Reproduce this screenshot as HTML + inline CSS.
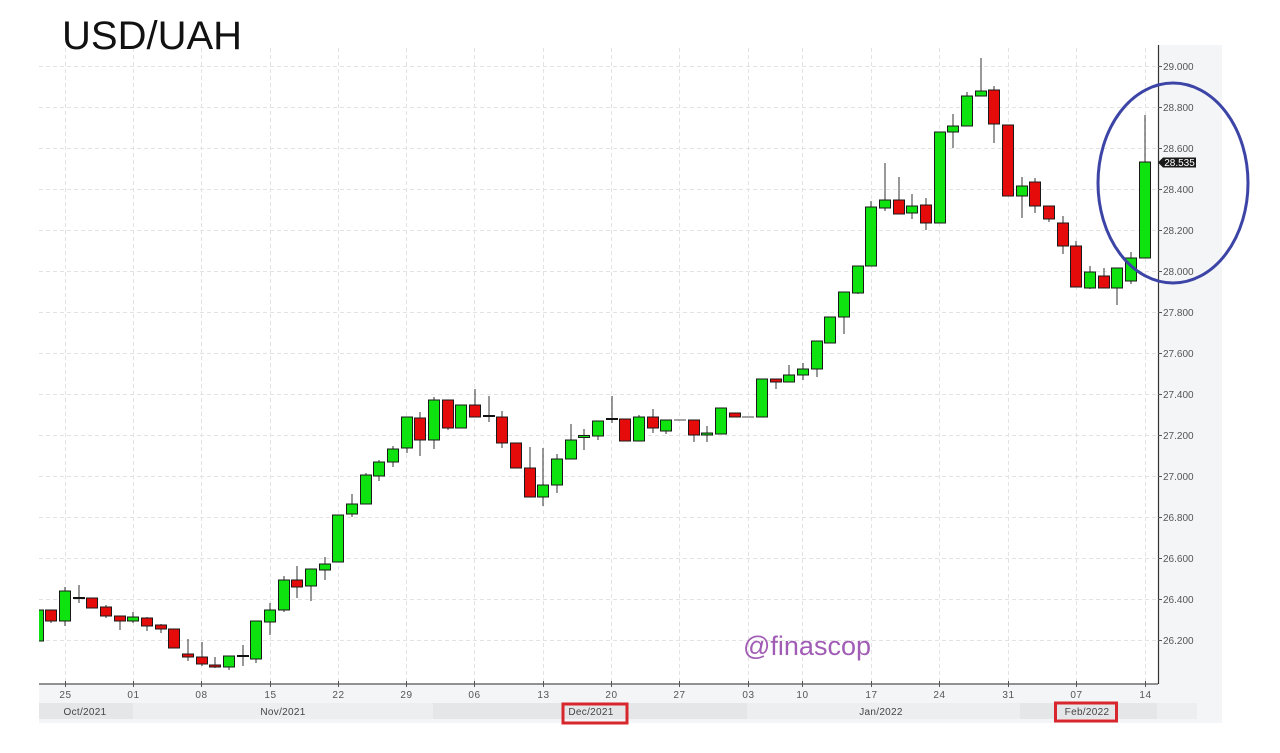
<!DOCTYPE html>
<html><head><meta charset="utf-8"><style>
html,body{margin:0;padding:0;background:#fff;}
body{width:1280px;height:753px;overflow:hidden;}
svg{display:block;font-family:"Liberation Sans",sans-serif;}
</style></head><body>
<svg width="1280" height="753" viewBox="0 0 1280 753" xmlns="http://www.w3.org/2000/svg">
<defs><clipPath id="pc"><rect x="39" y="45" width="1119" height="639"/></clipPath></defs>
<rect x="39" y="45" width="1183" height="678" fill="#f4f5f7"/>
<rect x="39" y="45" width="1119" height="639" fill="#fff"/>
<!-- month band -->
<rect x="39" y="703" width="94" height="16" fill="#e5e6e8"/>
<rect x="133" y="703" width="300" height="16" fill="#edeef0"/>
<rect x="433" y="703" width="314" height="16" fill="#e5e6e8"/>
<rect x="747" y="703" width="273" height="16" fill="#edeef0"/>
<rect x="1020" y="703" width="137" height="16" fill="#e5e6e8"/>
<rect x="1157" y="703" width="40" height="16" fill="#edeef0"/>
<!-- grid -->
<g stroke="#e3e3e3" stroke-width="1" stroke-dasharray="4,3">
<line x1="39" x2="1158" y1="66.5" y2="66.5"/><line x1="39" x2="1158" y1="107.5" y2="107.5"/><line x1="39" x2="1158" y1="148.5" y2="148.5"/><line x1="39" x2="1158" y1="189.5" y2="189.5"/><line x1="39" x2="1158" y1="230.5" y2="230.5"/><line x1="39" x2="1158" y1="271.5" y2="271.5"/><line x1="39" x2="1158" y1="312.5" y2="312.5"/><line x1="39" x2="1158" y1="353.5" y2="353.5"/><line x1="39" x2="1158" y1="394.5" y2="394.5"/><line x1="39" x2="1158" y1="435.5" y2="435.5"/><line x1="39" x2="1158" y1="476.5" y2="476.5"/><line x1="39" x2="1158" y1="517.5" y2="517.5"/><line x1="39" x2="1158" y1="558.5" y2="558.5"/><line x1="39" x2="1158" y1="599.5" y2="599.5"/><line x1="39" x2="1158" y1="640.5" y2="640.5"/>
<line x1="65.5" x2="65.5" y1="48" y2="684"/><line x1="133.5" x2="133.5" y1="48" y2="684"/><line x1="201.5" x2="201.5" y1="48" y2="684"/><line x1="270.5" x2="270.5" y1="48" y2="684"/><line x1="338.5" x2="338.5" y1="48" y2="684"/><line x1="406.5" x2="406.5" y1="48" y2="684"/><line x1="474.5" x2="474.5" y1="48" y2="684"/><line x1="543.5" x2="543.5" y1="48" y2="684"/><line x1="611.5" x2="611.5" y1="48" y2="684"/><line x1="679.5" x2="679.5" y1="48" y2="684"/><line x1="748.5" x2="748.5" y1="48" y2="684"/><line x1="802.5" x2="802.5" y1="48" y2="684"/><line x1="871.5" x2="871.5" y1="48" y2="684"/><line x1="939.5" x2="939.5" y1="48" y2="684"/><line x1="1008.5" x2="1008.5" y1="48" y2="684"/><line x1="1076.5" x2="1076.5" y1="48" y2="684"/><line x1="1145.5" x2="1145.5" y1="48" y2="684"/>
</g>
<!-- watermark -->
<text x="743" y="655" font-size="27" fill="#a15cb5">@finascop</text>
<g clip-path="url(#pc)">
<!-- wicks -->
<g stroke="#333" stroke-width="1">
<line x1="51" x2="51" y1="621" y2="623"/><line x1="65" x2="65" y1="587" y2="626"/><line x1="79" x2="79" y1="585" y2="603"/><line x1="106" x2="106" y1="605" y2="618"/><line x1="120" x2="120" y1="616" y2="630"/><line x1="133" x2="133" y1="612" y2="623"/><line x1="147" x2="147" y1="617" y2="631"/><line x1="161" x2="161" y1="624" y2="633"/><line x1="188" x2="188" y1="639" y2="661"/><line x1="202" x2="202" y1="642" y2="666"/><line x1="215" x2="215" y1="657" y2="668"/><line x1="229" x2="229" y1="656" y2="670"/><line x1="243" x2="243" y1="645" y2="666"/><line x1="256" x2="256" y1="621" y2="663"/><line x1="270" x2="270" y1="603" y2="635"/><line x1="284" x2="284" y1="576" y2="612"/><line x1="297" x2="297" y1="566" y2="598"/><line x1="311" x2="311" y1="569" y2="601"/><line x1="325" x2="325" y1="557" y2="580"/><line x1="352" x2="352" y1="494" y2="517"/><line x1="366" x2="366" y1="473" y2="504"/><line x1="379" x2="379" y1="460" y2="481"/><line x1="393" x2="393" y1="446" y2="467"/><line x1="407" x2="407" y1="417" y2="453"/><line x1="420" x2="420" y1="412" y2="456"/><line x1="434" x2="434" y1="397" y2="449"/><line x1="448" x2="448" y1="400" y2="430"/><line x1="475" x2="475" y1="389" y2="417"/><line x1="489" x2="489" y1="396" y2="422"/><line x1="502" x2="502" y1="411" y2="448"/><line x1="530" x2="530" y1="447" y2="497"/><line x1="543" x2="543" y1="448" y2="506"/><line x1="557" x2="557" y1="454" y2="493"/><line x1="571" x2="571" y1="424" y2="459"/><line x1="584" x2="584" y1="429" y2="450"/><line x1="598" x2="598" y1="421" y2="440"/><line x1="612" x2="612" y1="396" y2="423"/><line x1="639" x2="639" y1="415" y2="441"/><line x1="653" x2="653" y1="409" y2="433"/><line x1="666" x2="666" y1="420" y2="434"/><line x1="694" x2="694" y1="420" y2="442"/><line x1="707" x2="707" y1="426" y2="442"/><line x1="776" x2="776" y1="379" y2="389"/><line x1="789" x2="789" y1="365" y2="382"/><line x1="803" x2="803" y1="363" y2="380"/><line x1="817" x2="817" y1="341" y2="377"/><line x1="844" x2="844" y1="292" y2="334"/><line x1="858" x2="858" y1="266" y2="294"/><line x1="871" x2="871" y1="201" y2="266"/><line x1="885" x2="885" y1="163" y2="211"/><line x1="899" x2="899" y1="177" y2="214"/><line x1="912" x2="912" y1="194" y2="219"/><line x1="926" x2="926" y1="198" y2="230"/><line x1="953" x2="953" y1="114" y2="148"/><line x1="967" x2="967" y1="92" y2="126"/><line x1="981" x2="981" y1="58" y2="96"/><line x1="994" x2="994" y1="86" y2="143"/><line x1="1022" x2="1022" y1="177" y2="218"/><line x1="1035" x2="1035" y1="178" y2="213"/><line x1="1049" x2="1049" y1="206" y2="222"/><line x1="1063" x2="1063" y1="216" y2="254"/><line x1="1076" x2="1076" y1="241" y2="287"/><line x1="1090" x2="1090" y1="266" y2="289"/><line x1="1104" x2="1104" y1="268" y2="288"/><line x1="1117" x2="1117" y1="268" y2="305"/><line x1="1131" x2="1131" y1="252" y2="284"/><line x1="1145" x2="1145" y1="115" y2="258"/>
</g>
<!-- flat lines -->
<g stroke="#666" stroke-width="1.2">
<line x1="674" x2="686" y1="420" y2="420"/><line x1="742" x2="754" y1="417" y2="417"/>
</g>
<!-- green bodies -->
<g fill="#0fe30f" stroke="#1a1a1a" stroke-width="1">
<rect x="32.5" y="610" width="11" height="31"/><rect x="59.5" y="591" width="11" height="30"/><rect x="127.5" y="617" width="11" height="4"/><rect x="223.5" y="656" width="11" height="11"/><rect x="250.5" y="621" width="11" height="38"/><rect x="264.5" y="610" width="11" height="12"/><rect x="278.5" y="580" width="11" height="30"/><rect x="305.5" y="569" width="11" height="17"/><rect x="319.5" y="564" width="11" height="6"/><rect x="332.5" y="515" width="11" height="47"/><rect x="346.5" y="504" width="11" height="10"/><rect x="360.5" y="475" width="11" height="29"/><rect x="373.5" y="462" width="11" height="14"/><rect x="387.5" y="449" width="11" height="13"/><rect x="401.5" y="417" width="11" height="31"/><rect x="428.5" y="400" width="11" height="40"/><rect x="455.5" y="405" width="11" height="23"/><rect x="537.5" y="485" width="11" height="12"/><rect x="551.5" y="459" width="11" height="26"/><rect x="565.5" y="440" width="11" height="19"/><rect x="578.5" y="435.5" width="11" height="2"/><rect x="592.5" y="421" width="11" height="15"/><rect x="633.5" y="417" width="11" height="24"/><rect x="660.5" y="420" width="11" height="11"/><rect x="701.5" y="433" width="11" height="2"/><rect x="715.5" y="408" width="11" height="26"/><rect x="756.5" y="379" width="11" height="38"/><rect x="783.5" y="375" width="11" height="7"/><rect x="797.5" y="369" width="11" height="6"/><rect x="811.5" y="341" width="11" height="28"/><rect x="824.5" y="317" width="11" height="26"/><rect x="838.5" y="292" width="11" height="25"/><rect x="852.5" y="266" width="11" height="27"/><rect x="865.5" y="207" width="11" height="59"/><rect x="879.5" y="200" width="11" height="8"/><rect x="906.5" y="206" width="11" height="7"/><rect x="934.5" y="132" width="11" height="91"/><rect x="947.5" y="126" width="11" height="6"/><rect x="961.5" y="96" width="11" height="30"/><rect x="975.5" y="91" width="11" height="5"/><rect x="1016.5" y="186" width="11" height="10"/><rect x="1084.5" y="272" width="11" height="16"/><rect x="1111.5" y="268" width="11" height="20"/><rect x="1125.5" y="258" width="11" height="23"/><rect x="1139.5" y="162" width="11" height="96"/>
</g>
<!-- red bodies -->
<g fill="#e50b0b" stroke="#1a1a1a" stroke-width="1">
<rect x="45.5" y="610" width="11" height="11"/><rect x="86.5" y="598" width="11" height="10"/><rect x="100.5" y="607" width="11" height="9"/><rect x="114.5" y="616" width="11" height="5"/><rect x="141.5" y="618" width="11" height="8"/><rect x="155.5" y="625" width="11" height="4"/><rect x="168.5" y="629" width="11" height="19"/><rect x="182.5" y="654" width="11" height="3"/><rect x="196.5" y="657" width="11" height="7"/><rect x="209.5" y="665" width="11" height="2"/><rect x="291.5" y="580" width="11" height="7"/><rect x="414.5" y="418" width="11" height="22"/><rect x="442.5" y="400" width="11" height="28"/><rect x="469.5" y="405" width="11" height="12"/><rect x="496.5" y="417" width="11" height="26"/><rect x="510.5" y="443" width="11" height="25"/><rect x="524.5" y="468" width="11" height="29"/><rect x="619.5" y="419" width="11" height="22"/><rect x="647.5" y="417" width="11" height="11"/><rect x="688.5" y="420" width="11" height="15"/><rect x="729.5" y="413" width="11" height="4"/><rect x="770.5" y="379" width="11" height="3"/><rect x="893.5" y="200" width="11" height="14"/><rect x="920.5" y="205" width="11" height="18"/><rect x="988.5" y="90" width="11" height="34"/><rect x="1002.5" y="125" width="11" height="71"/><rect x="1029.5" y="182" width="11" height="24"/><rect x="1043.5" y="206" width="11" height="13"/><rect x="1057.5" y="223" width="11" height="23"/><rect x="1070.5" y="246" width="11" height="41"/><rect x="1098.5" y="276" width="11" height="12"/>
</g>
<!-- dojis -->
<g fill="#111" stroke="#111" stroke-width="1">
<rect x="73.5" y="597.5" width="11" height="1"/><rect x="237.5" y="655.5" width="11" height="1"/><rect x="483.5" y="415.5" width="11" height="1"/><rect x="606.5" y="418.5" width="11" height="1"/>
</g>
</g>
<!-- axes -->
<line x1="39" x2="1158" y1="684" y2="684" stroke="#555" stroke-width="1.2"/>
<line x1="1158.5" x2="1158.5" y1="45" y2="684" stroke="#333" stroke-width="1.2"/>
<g stroke="#555" stroke-width="1">
<line x1="65.5" x2="65.5" y1="681" y2="687"/><line x1="133.5" x2="133.5" y1="681" y2="687"/><line x1="201.5" x2="201.5" y1="681" y2="687"/><line x1="270.5" x2="270.5" y1="681" y2="687"/><line x1="338.5" x2="338.5" y1="681" y2="687"/><line x1="406.5" x2="406.5" y1="681" y2="687"/><line x1="474.5" x2="474.5" y1="681" y2="687"/><line x1="543.5" x2="543.5" y1="681" y2="687"/><line x1="611.5" x2="611.5" y1="681" y2="687"/><line x1="679.5" x2="679.5" y1="681" y2="687"/><line x1="748.5" x2="748.5" y1="681" y2="687"/><line x1="802.5" x2="802.5" y1="681" y2="687"/><line x1="871.5" x2="871.5" y1="681" y2="687"/><line x1="939.5" x2="939.5" y1="681" y2="687"/><line x1="1008.5" x2="1008.5" y1="681" y2="687"/><line x1="1076.5" x2="1076.5" y1="681" y2="687"/><line x1="1145.5" x2="1145.5" y1="681" y2="687"/>
<line x1="1158" x2="1162" y1="66.5" y2="66.5"/><line x1="1158" x2="1162" y1="107.5" y2="107.5"/><line x1="1158" x2="1162" y1="148.5" y2="148.5"/><line x1="1158" x2="1162" y1="189.5" y2="189.5"/><line x1="1158" x2="1162" y1="230.5" y2="230.5"/><line x1="1158" x2="1162" y1="271.5" y2="271.5"/><line x1="1158" x2="1162" y1="312.5" y2="312.5"/><line x1="1158" x2="1162" y1="353.5" y2="353.5"/><line x1="1158" x2="1162" y1="394.5" y2="394.5"/><line x1="1158" x2="1162" y1="435.5" y2="435.5"/><line x1="1158" x2="1162" y1="476.5" y2="476.5"/><line x1="1158" x2="1162" y1="517.5" y2="517.5"/><line x1="1158" x2="1162" y1="558.5" y2="558.5"/><line x1="1158" x2="1162" y1="599.5" y2="599.5"/><line x1="1158" x2="1162" y1="640.5" y2="640.5"/>
</g>
<g font-size="10" fill="#555">
<text x="1163" y="70">29.000</text><text x="1163" y="111">28.800</text><text x="1163" y="152">28.600</text><text x="1163" y="193">28.400</text><text x="1163" y="234">28.200</text><text x="1163" y="275">28.000</text><text x="1163" y="316">27.800</text><text x="1163" y="357">27.600</text><text x="1163" y="398">27.400</text><text x="1163" y="439">27.200</text><text x="1163" y="480">27.000</text><text x="1163" y="521">26.800</text><text x="1163" y="562">26.600</text><text x="1163" y="603">26.400</text><text x="1163" y="644">26.200</text>
</g>
<g font-size="10" fill="#555" text-anchor="middle" letter-spacing="0.6">
<text x="65.5" y="698">25</text><text x="133.5" y="698">01</text><text x="201.5" y="698">08</text><text x="270.5" y="698">15</text><text x="338.5" y="698">22</text><text x="406.5" y="698">29</text><text x="474.5" y="698">06</text><text x="543.5" y="698">13</text><text x="611.5" y="698">20</text><text x="679.5" y="698">27</text><text x="748.5" y="698">03</text><text x="802.5" y="698">10</text><text x="871.5" y="698">17</text><text x="939.5" y="698">24</text><text x="1008.5" y="698">31</text><text x="1076.5" y="698">07</text><text x="1145.5" y="698">14</text>
</g>
<g font-size="10" fill="#444" text-anchor="middle" letter-spacing="0.3">
<text x="85" y="715">Oct/2021</text><text x="283" y="715">Nov/2021</text><text x="591" y="715">Dec/2021</text><text x="881" y="715">Jan/2022</text><text x="1087" y="715">Feb/2022</text>
</g>
<!-- red boxes -->
<rect x="563" y="704" width="64" height="19" fill="none" stroke="#d8262d" stroke-width="3"/>
<rect x="1055.5" y="703" width="61" height="18" fill="none" stroke="#d8262d" stroke-width="3"/>
<!-- price label -->
<polygon points="1158,162.5 1163,157.5 1196,157.5 1196,167.5 1163,167.5" fill="#1a1a1a"/>
<text x="1179.5" y="166" font-size="10" fill="#fff" text-anchor="middle">28.535</text>
<!-- ellipse -->
<ellipse cx="1173" cy="183" rx="75" ry="100" fill="none" stroke="#3c44a6" stroke-width="3"/>
<!-- title -->
<text x="62" y="49" font-size="40" fill="#111">USD/UAH</text>
</svg>
</body></html>
